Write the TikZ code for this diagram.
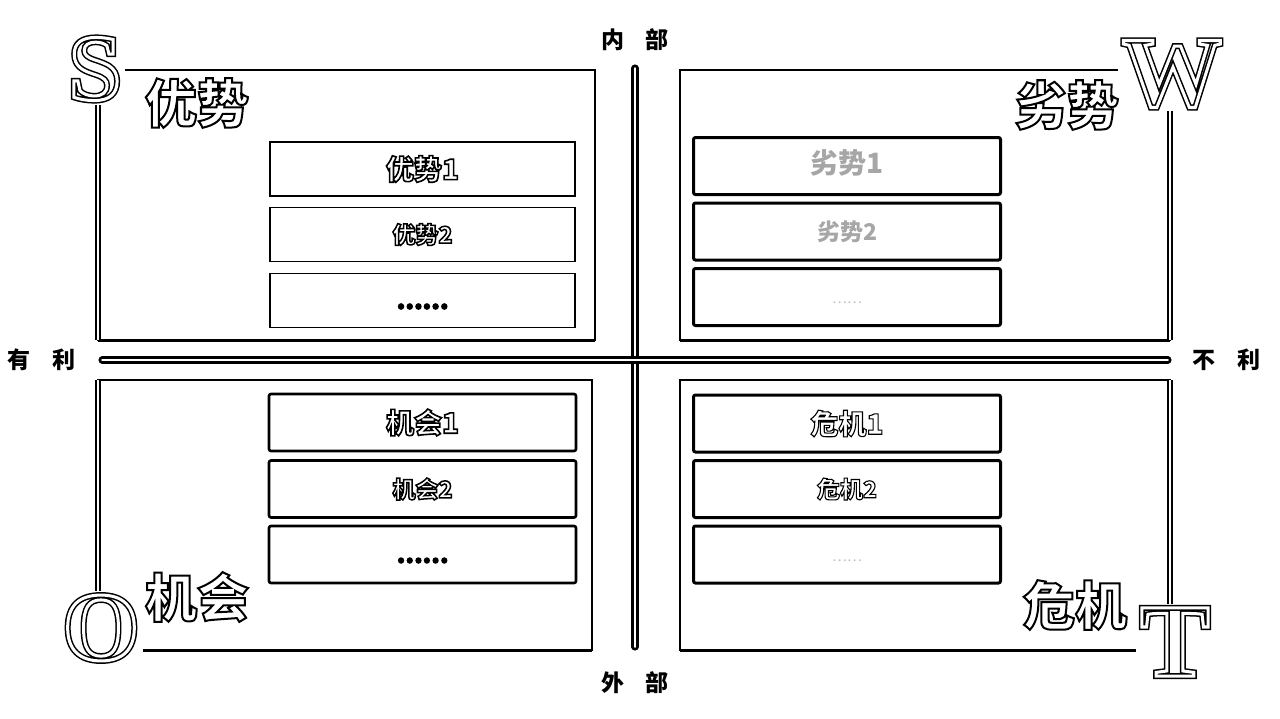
\documentclass[tikz,border=0pt]{standalone}
\usepackage{fontspec}
\setmainfont{Liberation Serif}
\newfontfamily\cjk{Noto Sans CJK SC}
\newcommand\outl[2][0.9]{\special{pdf:literal direct 1 Tr #1 w}#2\special{pdf:literal direct 0 Tr}}
\newcommand\fillout[2][0.9]{\special{pdf:literal direct 2 Tr #1 w}#2\special{pdf:literal direct 0 Tr}}
\begin{document}
\begin{tikzpicture}[x=1pt,y=-1pt,
  panel/.style={draw=black,line width=1.8},
  outeredge/.style={draw=black,line width=2.2,double=white,double distance=1.6},
  crossline/.style={draw=black,line width=2.8,double=white,double distance=1.5,line cap=round},
  lbox/.style={draw=black,line width=1.4,minimum width=305,minimum height=54,inner sep=0},
  rbox/.style={draw=black,line width=3,rounded corners=2,minimum width=307,minimum height=57,inner sep=0},
  lettercover/.style={fill=white,inner sep=4},
  letterink/.style={inner sep=4},
  title/.style={inner sep=0,font=\cjk\bfseries\fontsize{52}{52}\selectfont},
  axislbl/.style={inner sep=0,font=\cjk\bfseries\fontsize{23}{23}\selectfont},
  itembig/.style={inner sep=0,font=\cjk\bfseries\fontsize{28}{28}\selectfont},
  itemsmall/.style={inner sep=0,font=\cjk\bfseries\fontsize{23}{23}\selectfont},
  faint/.style={text=black!35},
]
\useasboundingbox (0,0) rectangle (1280,718);
\fill[white] (0,0) rectangle (1280,718);

% panels
\draw[panel] (98,70) rectangle (595,340);
\draw[panel] (680,70) rectangle (1170,340);
\draw[panel] (98,380) rectangle (592,650);
\draw[panel] (680,380) rectangle (1170,650);
\draw[black,line width=3] (98,340) -- (595,340);
\draw[black,line width=3] (680,340) -- (1170,340);
\draw[black,line width=3] (98,650) -- (592,650);
\draw[black,line width=3] (680,650) -- (1170,650);
\draw[outeredge] (98,70) -- (98,340);
\draw[outeredge] (1170,70) -- (1170,340);
\draw[outeredge] (98,380) -- (98,650);
\draw[outeredge] (1170,380) -- (1170,650);

% cross
\coordinate (vtop) at (635,68);
\coordinate (vbot) at (635,647);
\coordinate (hl) at (102,360);
\coordinate (hr) at (1168,360);
\draw[crossline] (vtop) -- (vbot);
\draw[crossline] (hl) -- (hr);

% corner letters (double outline)
\newcommand\bigletter[4]{%
  \node[lettercover,font=\bfseries\fontsize{#3}{#3}\selectfont] (#1) at (#2) {\outl[6]{#4}};
  \node[letterink,text=white,font=\bfseries\fontsize{#3}{#3}\selectfont] at (#1) {\outl[3]{#4}};}
\bigletter{S}{95,69}{94}{S}
\bigletter{W}{1172,74}{100}{W}
\bigletter{O}{101,628}{98}{O}
\bigletter{T}{1175,642}{104}{T}

% titles
\node[title] (ts) at (197,103) {\outl[2]{优势}};
\node[title] (tw) at (1067,105) {\outl[2]{劣势}};
\node[title] (to) at (197,597) {\outl[2]{机会}};
\node[title] (tt) at (1075,605) {\outl[2]{危机}};

% axis labels
\node[axislbl] (in) at (635,40) {内\hspace{22pt}部};
\node[axislbl] (out) at (635,683) {外\hspace{22pt}部};
\node[axislbl] (fav) at (42,360) {有\hspace{22pt}利};
\node[axislbl] (unf) at (1226,360) {不\hspace{22pt}利};

% strengths
\node[lbox] (s1) at (422.5,169) {};
\node[lbox] (s2) at (422.5,234.5) {};
\node[lbox] (s3) at (422.5,300.5) {};
\node[itembig] at (s1) {\outl[1.6]{优势1}};
\node[itemsmall] at (s2) {\outl[1.5]{优势2}};
\node[itemsmall] at ([yshift=-6]s3) {\fillout[1.5]{……}};

% weaknesses
\node[rbox] (w1) at (847,166) {};
\node[rbox] (w2) at (847,231.5) {};
\node[rbox] (w3) at (847,297) {};
\node[itembig,faint] at ([yshift=3]w1) {劣势1};
\node[itemsmall,faint] at (w2) {劣势2};
\node[itemsmall,text=black!25,font=\cjk\fontsize{14}{14}\selectfont] at ([yshift=-6]w3) {……};

% opportunities
\node[rbox,line width=2.6] (o1) at (422.5,422.5) {};
\node[rbox,line width=2.6] (o2) at (422.5,489) {};
\node[rbox,line width=2.6] (o3) at (422.5,554.5) {};
\node[itembig] at (o1) {\outl[1.6]{机会1}};
\node[itemsmall] at (o2) {\outl[1.5]{机会2}};
\node[itemsmall] at ([yshift=-6]o3) {\fillout[1.3]{……}};

% threats
\node[rbox] (t1) at (847,423.5) {};
\node[rbox] (t2) at (847,489) {};
\node[rbox] (t3) at (847,554.5) {};
\node[itembig] at (t1) {\outl[1.1]{危机1}};
\node[itemsmall] at (t2) {\outl[1.1]{危机2}};
\node[itemsmall,text=black!25,font=\cjk\fontsize{14}{14}\selectfont] at ([yshift=-6]t3) {……};
\end{tikzpicture}
\end{document}
